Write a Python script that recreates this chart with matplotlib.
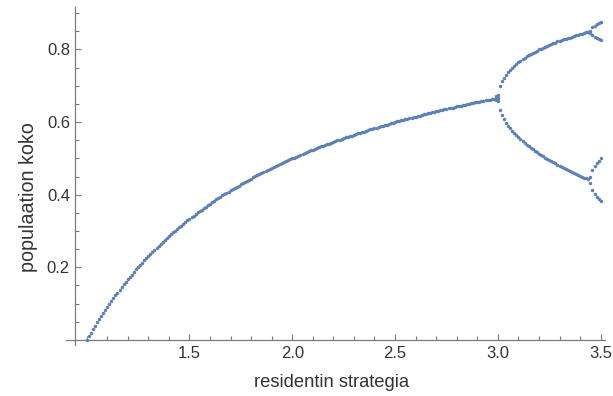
import numpy as np
import matplotlib
matplotlib.use('Agg')
import matplotlib.pyplot as plt

# fixed point branch, r = 1.00 ... 3.00 in steps of 0.01
r_main = np.round(np.arange(1.00, 3.005, 0.01), 2)
y_main = [
    0.000, 0.010, 0.020, 0.029, 0.038, 0.048, 0.057, 0.065, 0.074, 0.083,
    0.091, 0.099, 0.107, 0.115, 0.123, 0.130, 0.138, 0.145, 0.153, 0.160,
    0.167, 0.174, 0.180, 0.187, 0.194, 0.200, 0.206, 0.213, 0.219, 0.225,
    0.231, 0.237, 0.242, 0.248, 0.254, 0.259, 0.265, 0.270, 0.275, 0.281,
    0.286, 0.291, 0.296, 0.301, 0.306, 0.310, 0.315, 0.320, 0.324, 0.329,
    0.333, 0.338, 0.342, 0.346, 0.351, 0.355, 0.359, 0.363, 0.367, 0.371,
    0.375, 0.379, 0.383, 0.387, 0.390, 0.394, 0.398, 0.401, 0.405, 0.408,
    0.412, 0.415, 0.419, 0.422, 0.425, 0.429, 0.432, 0.435, 0.438, 0.441,
    0.444, 0.448, 0.451, 0.454, 0.457, 0.459, 0.462, 0.465, 0.468, 0.471,
    0.474, 0.476, 0.479, 0.482, 0.485, 0.487, 0.490, 0.492, 0.495, 0.497,
    0.500, 0.502, 0.505, 0.507, 0.510, 0.512, 0.515, 0.517, 0.519, 0.522,
    0.524, 0.526, 0.528, 0.531, 0.533, 0.535, 0.537, 0.539, 0.541, 0.543,
    0.545, 0.548, 0.550, 0.552, 0.554, 0.556, 0.558, 0.559, 0.561, 0.563,
    0.565, 0.567, 0.569, 0.571, 0.573, 0.574, 0.576, 0.578, 0.580, 0.582,
    0.583, 0.585, 0.587, 0.588, 0.590, 0.592, 0.593, 0.595, 0.597, 0.598,
    0.600, 0.602, 0.603, 0.605, 0.606, 0.608, 0.609, 0.611, 0.612, 0.614,
    0.615, 0.617, 0.618, 0.620, 0.621, 0.623, 0.624, 0.625, 0.627, 0.628,
    0.630, 0.631, 0.632, 0.634, 0.635, 0.636, 0.638, 0.639, 0.640, 0.642,
    0.643, 0.644, 0.645, 0.647, 0.648, 0.649, 0.650, 0.652, 0.653, 0.654,
    0.655, 0.656, 0.658, 0.659, 0.660, 0.661, 0.662, 0.663, 0.664, 0.666,
    0.667,
]

# slow-converging points right at the first split
r_split = [2.99, 3.00]
y_split_up = [0.671, 0.676]
y_split_down = [0.661, 0.657]

# period-2 branches, r = 3.01 ... 3.44
r_p2 = np.round(np.arange(3.01, 3.445, 0.01), 2)
y_p2_upper = [
    0.699, 0.713, 0.722, 0.731, 0.738, 0.744, 0.750, 0.755, 0.760, 0.765,
    0.769, 0.773, 0.777, 0.781, 0.784, 0.787, 0.791, 0.794, 0.797, 0.800,
    0.802, 0.805, 0.808, 0.810, 0.812, 0.815, 0.817, 0.819, 0.822, 0.824,
    0.826, 0.828, 0.830, 0.832, 0.833, 0.835, 0.837, 0.839, 0.841, 0.842,
    0.844, 0.845, 0.847, 0.849,
]
y_p2_lower = [
    0.633, 0.619, 0.608, 0.598, 0.590, 0.583, 0.576, 0.570, 0.564, 0.558,
    0.553, 0.548, 0.543, 0.538, 0.534, 0.529, 0.525, 0.521, 0.517, 0.513,
    0.509, 0.506, 0.502, 0.499, 0.495, 0.492, 0.489, 0.486, 0.483, 0.479,
    0.477, 0.474, 0.471, 0.468, 0.465, 0.462, 0.460, 0.457, 0.455, 0.452,
    0.450, 0.447, 0.445, 0.442,
]

# period-4 part, r = 3.45 ... 3.50
r_p4 = [3.45, 3.46, 3.47, 3.48, 3.49, 3.50]
y_p4_a = [0.852, 0.861, 0.865, 0.869, 0.872, 0.875]
y_p4_b = [0.846, 0.839, 0.835, 0.831, 0.829, 0.827]
y_p4_c = [0.448, 0.468, 0.479, 0.487, 0.494, 0.501]
y_p4_d = [0.432, 0.414, 0.403, 0.395, 0.388, 0.383]

x_major = [1.5, 2.0, 2.5, 3.0, 3.5]
x_minor = [1.0, 1.1, 1.2, 1.3, 1.4, 1.6, 1.7, 1.8, 1.9, 2.1, 2.2, 2.3, 2.4,
           2.6, 2.7, 2.8, 2.9, 3.1, 3.2, 3.3, 3.4]
y_major = [0.2, 0.4, 0.6, 0.8]
y_minor = [0.05, 0.1, 0.15, 0.25, 0.3, 0.35, 0.45, 0.5, 0.55, 0.65, 0.7,
           0.75, 0.85, 0.9]

blue = '#5E81B5'
axis_col = '#7a7a7a'
text_col = '#333333'

plt.rcParams['font.family'] = ['Liberation Sans', 'DejaVu Sans']

fig = plt.figure(figsize=(6.13, 3.96), dpi=100)
ax = fig.add_axes([0.1078, 0.1288, 0.8788, 0.8535])

pt = dict(linestyle='none', marker='o', markersize=2.5, color=blue, markeredgewidth=0)
ax.plot(r_main, y_main, **pt)
ax.plot(r_split, y_split_up, **pt)
ax.plot(r_split, y_split_down, **pt)
ax.plot(r_p2, y_p2_upper, **pt)
ax.plot(r_p2, y_p2_lower, **pt)
for ys in [y_p4_a, y_p4_b, y_p4_c, y_p4_d]:
    ax.plot(r_p4, ys, **pt)

ax.set_xlim(0.9, 3.52)
ax.set_ylim(-0.014, 0.917)

ax.spines['top'].set_visible(False)
ax.spines['right'].set_visible(False)
ax.spines['left'].set_position(('data', 0.943))
ax.spines['bottom'].set_position(('data', 0.0))
for s in ['left', 'bottom']:
    ax.spines[s].set_color(axis_col)
    ax.spines[s].set_linewidth(0.9)

ax.set_xticks(x_major)
ax.set_xticklabels(['%.1f' % v for v in x_major])
ax.set_xticks(x_minor, minor=True)
ax.set_yticks(y_major)
ax.set_yticklabels(['%.1f' % v for v in y_major])
ax.set_yticks(y_minor, minor=True)

ax.tick_params(which='both', direction='in', color=axis_col, width=0.8,
               labelcolor=text_col, labelsize=12)
ax.tick_params(which='major', length=4.5)
ax.tick_params(which='minor', length=2.8)
ax.tick_params(axis='x', which='major', pad=4.3)
ax.tick_params(axis='y', which='major', pad=3.6)

ax.set_xlabel('residentin strategia', fontsize=13.2, color=text_col)
ax.set_ylabel('populaation koko', fontsize=14.2, color=text_col)
ax.xaxis.set_label_coords(0.4926, -0.086)
ax.yaxis.set_label_coords(-0.052, 0.438)

fig.savefig('out.png', dpi=100)
